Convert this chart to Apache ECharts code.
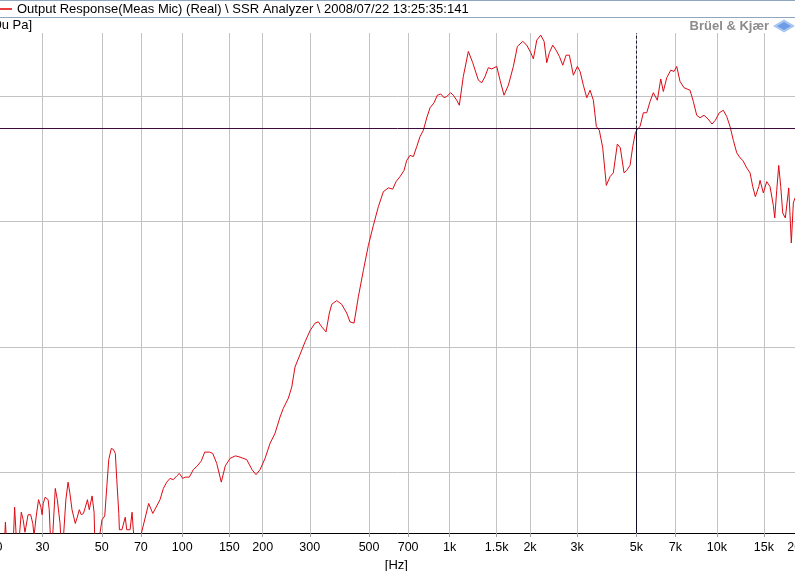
<!DOCTYPE html>
<html><head><meta charset="utf-8">
<script src="https://cdn.jsdelivr.net/npm/echarts@6/dist/echarts.min.js"></script>
<style>html,body{margin:0;padding:0;background:#fff;overflow:hidden}#c{width:795px;height:571px}</style>
</head><body><div id="c"></div>
<script>
// ---- data ----
const freqHz = [
  20.8,21.5,21.8,22.2,23.2,23.6,24.2,25.0,25.4,25.8,
  26.0,26.5,27.1,27.6,27.9,28.4,29.0,29.6,29.9,30.2,
  30.7,31.5,31.8,32.4,33.5,34.1,34.9,35.5,36.1,36.7,
  37.4,38.0,38.7,39.8,40.5,41.2,41.9,42.7,43.4,44.2,
  44.9,46.0,46.8,47.3,48.3,49.3,50.1,51.3,52.2,53.1,
  54.3,55.3,56.2,56.9,57.9,58.2,59.5,61.2,62.0,63.8,
  64.9,65.6,67.2,69.0,70.3,74.9,77.6,80.3,82.6,85.0,
  87.5,90.0,92.6,95.4,97.5,100.4,102.7,106.3,110.0,113.9,
  117.9,121.4,126.3,130.0,134.6,140.0,144.9,151.0,158.1,164.5,
  174.3,182.4,188.8,195.5,204.1,213.1,222.4,232.2,238.9,249.4,
  256.9,264.2,275.9,288.0,300.7,313.9,323.0,332.6,345.1,355.1,
  362.5,378.4,395.1,412.5,424.4,439.3,455.9,475.9,496.9,518.8,
  541.6,565.5,590.4,613.1,630.8,652.9,675.9,691.7,711.6,732.2,
  753.9,775.7,798.1,821.8,845.6,875.1,900.5,927.2,953.8,976.1,
  1010,1033,1064,1088,1126,1176,1221,1282,1320,1358,
  1397,1439,1502,1545,1599,1660,1733,1794,1879,1945,
  2013,2059,2120,2194,2258,2311,2363,2433,2504,2576,
  2652,2729,2807,2906,3008,3079,3167,3261,3355,3452,
  3542,3634,3742,3860,3985,4100,4244,4355,4496,4602,
  4735,4846,4956,5042,5161,5309,5468,5625,5787,5990,
  6168,6308,6496,6723,6917,7079,7283,7539,7938,8168,
  8410,8652,8956,9271,9595,9872,10217,10575,10889,11206,
  11528,11871,12214,12502,12939,13314,13627,13935,14349,14511,
  14928,15371,15812,16269,16465,16752,17044,17341,17640,18042,
  18578,18788,18997,19328,19615,20000
];
const levelDb = [
  33,33,36.0,33,33,37.2,33,36.8,36.2,35.2,
  35.6,36.6,36.6,35.9,34.9,36.4,37.8,37.2,36.6,37.5,
  38.0,37.8,37.0,33,38.7,37.8,35.9,33,33,37.8,
  39.2,38.3,37.0,35.9,36.4,37.0,36.6,36.7,37.2,37.8,
  37.0,38.1,36.8,33,33,35.2,36.2,36.5,38.8,41.0,
  41.9,41.8,41.5,39.4,36.7,35.4,35.4,36.4,35.4,35.4,
  36.8,35.4,33,33,35.1,37.5,36.7,37.3,37.8,38.7,
  39.2,39.5,39.4,39.7,39.9,39.5,39.6,39.6,40.2,40.5,
  40.9,41.6,41.6,41.5,40.7,39.2,40.5,41.1,41.3,41.2,
  41.0,40.2,39.8,40.2,41.1,42.3,43.1,44.4,45.1,45.9,
  46.8,48.4,49.4,50.4,51.3,51.9,52.0,51.6,51.2,52.7,
  53.4,53.7,53.4,52.7,52.0,51.9,54.0,56.1,58.1,59.7,
  61.2,62.4,62.7,62.6,63.2,63.6,64.1,64.9,65.3,65.2,
  66.0,66.8,67.3,68.3,69.1,69.5,70.1,70.2,69.9,70.0,
  70.3,70.1,69.7,69.3,71.6,73.6,72.7,71.3,71.1,71.6,
  72.3,72.2,72.4,71.3,70.1,70.9,72.4,74.0,74.4,74.1,
  73.5,73.0,74.5,74.9,74.4,72.7,73.5,74.1,73.7,73.2,
  72.5,73.3,73.3,71.7,72.4,72.0,70.9,69.9,70.5,69.7,
  67.6,67.3,65.9,62.9,63.6,63.9,66.2,65.9,63.9,64.1,
  64.5,66.0,67.1,67.4,67.6,68.7,68.7,69.6,70.3,69.7,
  71.4,70.4,71.5,72.1,72.0,72.4,71.2,70.7,70.5,69.6,
  68.5,68.3,68.5,68.2,67.8,68.1,68.7,68.9,68.4,67.6,
  66.5,65.5,65.1,64.9,64.3,63.9,62.8,62.0,62.8,63.3,
  62.3,63.2,62.8,61.3,60.3,62.5,64.5,62.8,60.7,60.3,
  62.7,60.5,58.3,61.5,61.9,62.0
];
const tickHz = [20,30,50,70,100,150,200,300,500,700,1000,1500,2000,3000,5000,7000,10000,15000,20000];
const tickLabels = ['20','30','50','70','100','150','200','300','500','700','1k','1.5k','2k','3k','5k','7k','10k','15k','20k'];
const levelGrid = [40,50,60,70];
const levelMin = 35.14, levelMax = 75.07;
const cursorHz = 5000;
const cursorDb = 67.43;
const titleText = 'Output Response(Meas Mic) (Real) \\ SSR Analyzer \\ 2008/07/22 13:25:35:141';
const unitText = '[dB/20u Pa]';
const axisName = '[Hz]';
const brandText = 'Brüel & Kjær';

// ---- chart ----
const chart = echarts.init(document.getElementById('c'), null, {renderer: 'canvas'});
const points = freqHz.map((f, i) => [f, levelDb[i]]);
const FONT = '"Liberation Sans", Arial, sans-serif';
const fmt = v => {
  const i = tickHz.findIndex(t => Math.abs(t - v) < t * 1e-4);
  return i >= 0 ? tickLabels[i] : '';
};
const option = {
  animation: false,
  backgroundColor: '#ffffff',
  grid: {left: -4.6, right: -2.3, top: 33, bottom: 38, containLabel: false, outerBoundsMode: 'none'},
  xAxis: {
    type: 'log', logBase: 10, min: 20, max: 20000,
    axisLine: {show: true, onZero: false, lineStyle: {color: '#000', width: 1}},
    axisTick: {show: true, customValues: tickHz, length: 4, lineStyle: {color: '#a0a0a0'}},
    axisLabel: {show: true, customValues: tickHz, formatter: fmt, color: '#000', fontFamily: FONT, fontSize: 12.5, margin: 8},
    splitLine: {show: true, lineStyle: {color: '#c3c3c3', width: 1}},
    minorTick: {show: false}, minorSplitLine: {show: false},
    name: axisName, nameLocation: 'middle', nameGap: 22,
    nameTextStyle: {color: '#000', fontFamily: FONT, fontSize: 13}
  },
  yAxis: {
    type: 'value', min: levelMin, max: levelMax,
    axisLine: {show: false},
    axisTick: {show: false, customValues: levelGrid},
    axisLabel: {show: false, customValues: levelGrid},
    splitLine: {show: true, lineStyle: {color: '#c3c3c3', width: 1}}
  },
  series: [{
    type: 'line',
    data: points,
    showSymbol: false, symbol: 'none',
    clip: true,
    lineStyle: {color: '#dc0a14', width: 1},
    itemStyle: {color: '#dc0a14'},
    emphasis: {disabled: true},
    silent: true,
    z: 3,
    markLine: {
      silent: true,
      symbol: ['none', 'none'],
      label: {show: false},
      emphasis: {disabled: true},
      animation: false,
      z: 4,
      data: [
        {yAxis: cursorDb, lineStyle: {color: '#3c0a3c', width: 1, type: 'solid'}},
        [{coord: [cursorHz, cursorDb], lineStyle: {color: '#1a1a3a', width: 1, type: [3, 2]}},
         {coord: [cursorHz, levelMax]}],
        [{coord: [cursorHz, levelMin], lineStyle: {color: '#10102a', width: 1, type: 'solid'}},
         {coord: [cursorHz, cursorDb]}]
      ]
    }
  }],
  graphic: [
    {type: 'line', silent: true, shape: {x1: 0, y1: 0.5, x2: 795, y2: 0.5}, style: {stroke: '#8ea6bf', lineWidth: 1}},
    {type: 'line', silent: true, shape: {x1: 0, y1: 17.5, x2: 795, y2: 17.5}, style: {stroke: '#8ea6bf', lineWidth: 1}},
    {type: 'line', silent: true, shape: {x1: 0, y1: 9, x2: 12, y2: 9}, style: {stroke: '#e00000', lineWidth: 1.5}},
    {type: 'text', silent: true, x: 17, y: 9.5, style: {text: titleText, fontFamily: FONT, fontSize: 13, fill: '#000', verticalAlign: 'middle'}},
    {type: 'text', silent: true, x: 32, y: 25.5, style: {text: unitText, fontFamily: FONT, fontSize: 13, fill: '#000', align: 'right', verticalAlign: 'middle'}},
    {type: 'text', silent: true, x: 769, y: 26, style: {text: brandText, fontFamily: FONT, fontSize: 13, fontWeight: 'bold', fill: '#8c8c8c', align: 'right', verticalAlign: 'middle', textShadowColor: '#d8d8d8', textShadowOffsetX: 1, textShadowOffsetY: 1}},
    {type: 'polygon', silent: true, shape: {points: [[773, 26], [784, 19.5], [795, 26], [784, 32.5]]}, style: {fill: '#a9c6f2'}},
    {type: 'polygon', silent: true, shape: {points: [[777, 26], [784, 22], [791, 26], [784, 30]]}, style: {fill: '#6e9be6'}}
  ]
};
chart.setOption(option);
</script>
</body></html>
